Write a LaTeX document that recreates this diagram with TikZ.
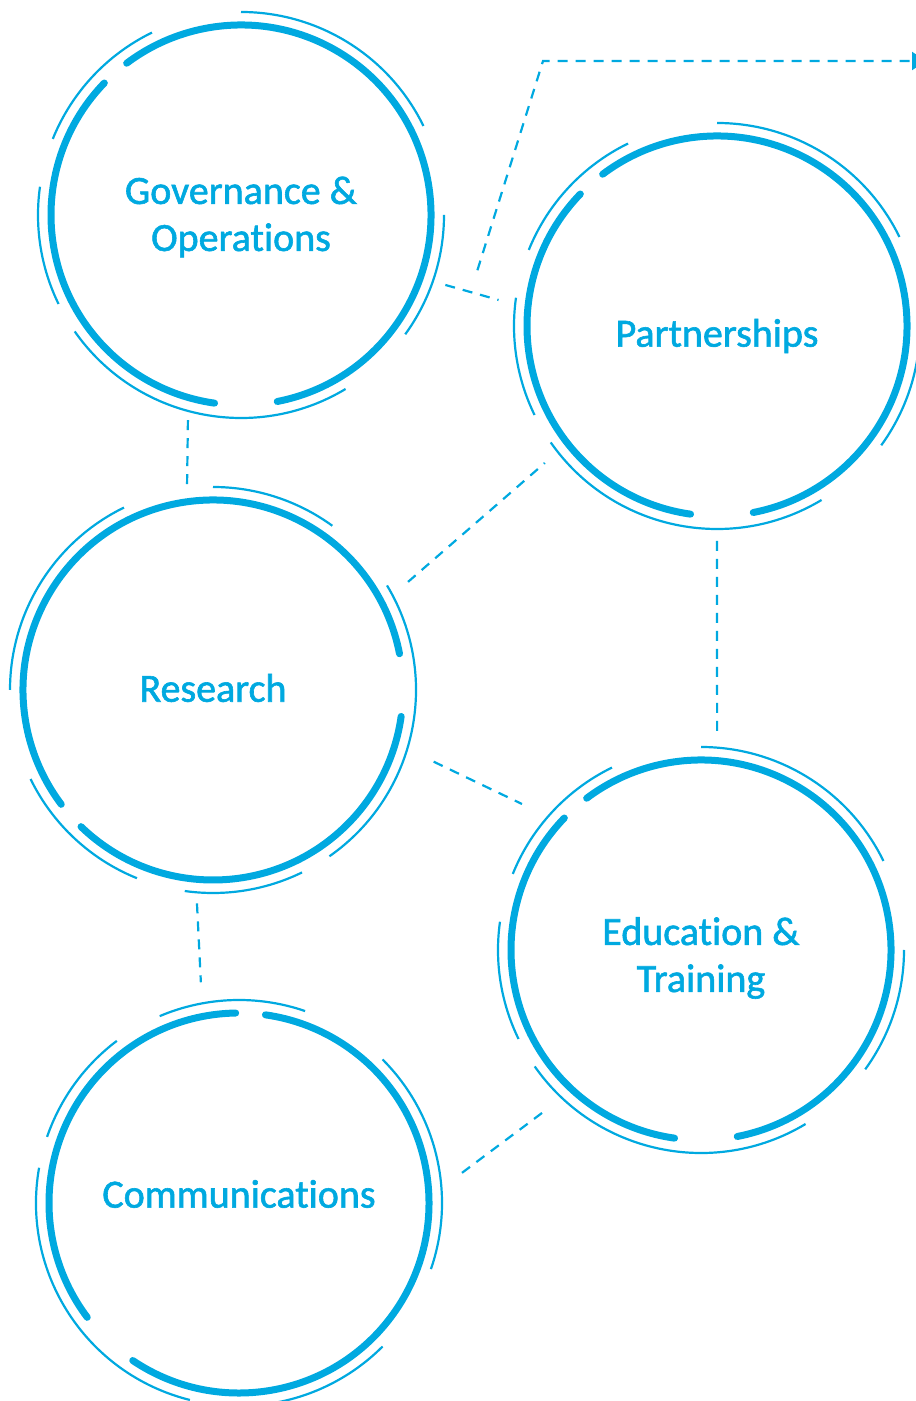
\documentclass[tikz,border=0pt]{standalone}
\usepackage{fontspec}
\setmainfont{Carlito}[Ligatures=NoCommon, FakeBold=1.5]
\usetikzlibrary{arrows.meta}
\definecolor{ciblue}{HTML}{00A9E0}

\tikzset{
  hub/.style={circle, minimum size=420pt, inner sep=0pt, outer sep=0pt},
  thickring/.style={draw=ciblue, line width=7pt, line cap=round},
  thinring/.style={draw=ciblue, line width=2.2pt},
  link/.style={draw=ciblue, line width=2.2pt, dash pattern=on 10pt off 8pt},
  lbl/.style={text=ciblue, align=center, inner sep=0pt,
              font=\fontsize{40pt}{47pt}\selectfont}
}

% rings round a hub: #1 node, #2 turn
\newcommand{\hubrings}[2]{
  \foreach \a/\b in {136/262, 281/487}{
    \pgfmathsetmacro\sa{\a+#2}
    \pgfmathsetmacro\ea{\b+#2}
    \draw[thickring] ([shift={(\sa:190pt)}]#1.center)
      arc[start angle=\sa, end angle=\ea, radius=190pt];
  }
  \foreach \a/\b in {26/90, -36/0, 215/301, 172/206, 116/158}{
    \pgfmathsetmacro\sa{\a+#2}
    \pgfmathsetmacro\ea{\b+#2}
    \draw[thinring] ([shift={(\sa:203pt)}]#1.center)
      arc[start angle=\sa, end angle=\ea, radius=203pt];
  }
}

\begin{document}
\begin{tikzpicture}[x=1pt, y=1pt, >={Triangle[width=18pt,length=14pt]}]

    \useasboundingbox (0,0) rectangle (916,1401);

    \node[hub] (gov) at (241,1186) {};
    \node[lbl] (govtxt) at ([yshift=-2pt]gov.center) {Governance \&\\Operations};

    \node[hub] (par) at (717,1075) {};
    \node[lbl] (partxt) at ([yshift=-10pt]par.center) {Partnerships};

    \node[hub] (res) at (213,711) {};
    \node[lbl] (restxt) at ([yshift=2pt]res.center) {Research};

    \node[hub] (edu) at (701,451) {};
    \node[lbl] (edutxt) at ([yshift=-8pt]edu.center) {Education \&\\Training};

    \node[hub] (com) at (239,198) {};
    \node[lbl] (comtxt) at ([yshift=9pt]com.center) {Communications};

    \hubrings{gov}{0}
    \hubrings{par}{0}
    \hubrings{res}{90}
    \hubrings{edu}{0}
    \hubrings{com}{315}

    \coordinate (bend) at (543,1340);
    \coordinate (exit) at (926,1340);

    %links between hubs
    \draw[link] ([shift={(255.5:212pt)}]gov.center) -- ([shift={(97.2:207pt)}]res.center);
    \draw[link] ([shift={(-18.9:216pt)}]gov.center) -- ([shift={(173.2:220pt)}]par.center);
    \draw[link] ([shift={(29:223pt)}]res.center) -- ([shift={(218.5:220pt)}]par.center);
    \draw[link] ([shift={(-18:232pt)}]res.center) -- ([shift={(140.8:231pt)}]edu.center);
    \draw[link] ([shift={(270:215pt)}]par.center) -- ([shift={(85.7:215pt)}]edu.center);
    \draw[link] ([shift={(265.7:214pt)}]res.center) -- ([shift={(99.8:224pt)}]com.center);
    \draw[link] ([shift={(7.7:225pt)}]com.center) -- ([shift={(225.9:223pt)}]edu.center);
    %outgoing arrow
    \draw[link,->] ([shift={(166.9:246pt)}]par.center) -- (bend) -- (exit);

\end{tikzpicture}
\end{document}
